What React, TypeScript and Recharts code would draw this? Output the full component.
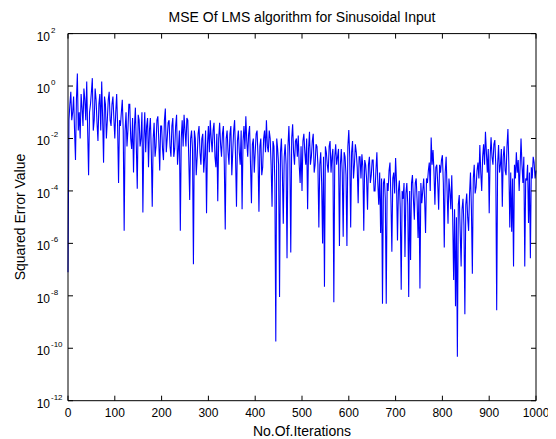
import React from "react";
import { LineChart, Line, XAxis, YAxis } from "recharts";

const ITER_STEP = 2;
const TITLE = "MSE Of LMS algorithm for Sinusoidal Input";
const X_LABEL = "No.Of.Iterations";
const Y_LABEL = "Squared Error Value";
const xTicks = [0, 100, 200, 300, 400, 500, 600, 700, 800, 900, 1000];
const yTickExponents = [2, 0, -2, -4, -6, -8, -10, -12];

// squared error, one value every 2 iterations (0..1000), 40 iterations per row
const mseValues = [
  8e-8, 5e-2, 2e-1, 6e-1, 5e-2, 1e-1, 4e-1, 2e-2, 1.5e-3, 3e-1, 3, 2e-2, 1e-1, 1e-2, 5e-1, 1.5e-1, 3e-2, 8e-1, 3e-1, 5e-2,
  1.5, 2e-2, 4e-4, 1e-1, 2e-1, 6e-1, 2, 2e-2, 5e-2, 8e-1, 3e-1, 4e-2, 8e-3, 2e-1, 5e-1, 2e-2, 1.5, 6e-2, 1.2e-3, 4e-1,
  2e-1, 1e-2, 5e-2, 3e-1, 6e-1, 5e-2, 3e-2, 2e-1, 4e-1, 6e-2, 1e-2, 1e-1, 5e-1, 3e-2, 2e-4, 5e-2, 3e-2, 1e-1, 3e-1, 2e-2,
  3e-6, 2e-2, 1e-1, 5e-3, 2e-2, 2e-1, 2e-1, 1e-2, 4e-3, 6e-2, 5e-4, 3e-2, 1.5e-1, 5e-3, 1.2e-4, 8e-2, 5e-2, 5e-3, 1e-2, 1e-1,
  1.5e-5, 1e-2, 1e-1, 3e-3, 3e-2, 6e-2, 8e-4, 2e-2, 6e-2, 3e-3, 2.5e-5, 1e-2, 4e-2, 2e-3, 5e-3, 5e-2, 7e-2, 8e-3, 6e-4, 3e-2,
  3e-2, 4e-3, 1.5e-3, 5e-2, 1.4e-1, 3e-3, 1e-2, 4e-2, 5e-2, 5e-3, 2e-3, 3e-2, 6e-2, 2e-3, 4e-3, 3e-2, 8e-2, 1e-3, 4e-3, 2e-2,
  3e-6, 1e-2, 5e-2, 5e-3, 8e-2, 2e-2, 5e-3, 6e-2, 5e-2, 2e-3, 4.5e-5, 1e-2, 2e-2, 4e-3, 1.6e-7, 2e-2, 1e-2, 4e-4, 2e-3, 1.5e-2,
  3e-2, 3e-3, 1e-3, 1e-2, 1.5e-2, 5e-4, 2e-3, 2e-2, 1.4e-5, 6e-3, 3e-2, 3e-3, 5e-2, 1e-2, 3e-3, 2e-2, 4e-2, 2e-3, 8e-4, 1.5e-2,
  4e-5, 1e-2, 4e-2, 6e-3, 2e-3, 1.5e-2, 3e-2, 1e-3, 3.4e-6, 1e-2, 2e-2, 3e-3, 1e-3, 1.5e-2, 3e-2, 4e-4, 3e-3, 2e-2, 5e-2, 2e-3,
  2.5e-5, 8e-3, 2e-2, 3e-3, 1e-3, 2e-2, 2e-5, 8e-3, 3e-2, 4e-3, 7e-2, 8e-3, 2e-3, 1.5e-2, 3e-2, 1e-3, 3.4e-5, 6e-3, 1e-2, 5e-4,
  3e-3, 1.5e-2, 2e-2, 2e-3, 1.6e-5, 5e-3, 1e-2, 4e-4, 8e-4, 1e-2, 2e-2, 3e-3, 5e-2, 5e-3, 3e-3, 2e-2, 1e-2, 1e-3, 2.5e-5, 8e-3,
  5e-3, 2e-4, 1.8e-10, 1e-2, 4e-3, 1e-3, 9e-9, 3e-3, 1e-2, 5e-4, 5.6e-6, 2e-3, 6e-3, 1e-3, 2.7e-7, 5e-3, 3e-2, 2e-3, 4.5e-7, 1e-2,
  3.5e-2, 3e-3, 1e-3, 8e-3, 1e-2, 2e-3, 1.3e-2, 1e-3, 2e-4, 5e-3, 1e-4, 8e-3, 1.5e-2, 3e-3, 1e-3, 1e-2, 2e-5, 4e-3, 1.8e-2, 1e-3,
  2e-3, 8e-3, 1.5e-2, 5e-4, 1e-3, 6e-3, 5e-3, 1e-3, 4e-6, 1e-3, 3e-3, 2e-4, 1e-6, 2e-3, 2.2e-8, 5e-3, 3e-3, 1e-3, 5e-4, 5e-3,
  8e-3, 5e-4, 2e-3, 4e-3, 5.7e-9, 2e-3, 6e-3, 1e-3, 2e-3, 4e-3, 8e-7, 1e-3, 4e-3, 5e-4, 1.8e-6, 3e-3, 2e-3, 4e-4, 8e-7, 5e-3,
  2.1e-2, 2e-3, 4e-6, 3e-3, 8e-3, 3e-4, 1e-3, 6e-3, 3e-3, 8e-4, 3.4e-5, 2e-3, 2e-3, 3e-4, 2.5e-3, 8e-4, 3e-6, 1.5e-3, 1e-3, 3e-4,
  1.9e-5, 1e-3, 2e-3, 2e-4, 4e-4, 1.5e-3, 1.5e-3, 1e-4, 1e-4, 6e-4, 3e-3, 2e-4, 3e-5, 5e-4, 2.5e-6, 3e-4, 5e-9, 2e-4, 3e-4, 5e-5,
  5e-9, 2e-4, 1e-4, 6e-4, 1.2e-3, 5e-5, 4.8e-7, 3e-4, 5e-4, 8e-5, 1.8e-3, 2e-4, 1.3e-6, 1e-4, 2.5e-4, 2e-5, 1.7e-8, 1e-4, 5e-5, 2e-4,
  3e-7, 8e-5, 2e-4, 3e-5, 9e-9, 1e-4, 2.3e-7, 2e-4, 4e-4, 5e-5, 8e-6, 2e-4, 3e-4, 4e-5, 1.6e-6, 1e-4, 1.9e-8, 2e-4, 3.4e-5, 1e-4,
  3e-4, 5e-5, 2.5e-6, 3e-4, 2e-4, 6e-4, 1.2e-3, 1e-4, 1.1e-2, 1e-3, 3.6e-3, 5e-4, 3e-5, 8e-4, 1e-3, 2e-4, 1.9e-5, 1e-3, 5e-4, 1.5e-3,
  2.3e-3, 2e-4, 7e-7, 5e-4, 2e-3, 1e-4, 5.6e-6, 3e-4, 1e-4, 2e-5, 4e-4, 1e-5, 4e-8, 2e-5, 4e-9, 1e-5, 4.7e-11, 3e-5, 7e-5, 3e-6,
  1.3e-7, 2e-5, 5e-5, 5e-6, 2e-9, 3e-5, 8e-5, 1e-5, 3e-6, 8e-5, 5e-4, 2e-5, 7e-8, 3e-4, 1e-3, 8e-5, 1.4e-4, 6e-4, 1.2e-3, 3e-4,
  5.6e-3, 5e-4, 1e-4, 2e-3, 6e-3, 1e-3, 1.8e-2, 3e-3, 5e-4, 4e-3, 1.4e-5, 2e-3, 1.1e-2, 2e-3, 1e-3, 6e-3, 8.7e-3, 1e-3, 2.8e-9, 1e-3,
  5.6e-3, 5e-4, 1e-3, 4e-3, 2.5e-5, 2e-3, 5e-3, 6e-4, 4e-4, 5e-3, 2.3e-2, 1e-3, 4e-6, 5e-4, 2.8e-6, 3e-4, 1.3e-7, 1e-3, 3e-4, 3e-3,
  5e-4, 1.5e-3, 1e-4, 8e-4, 1e-2, 1e-3, 2e-4, 2e-3, 1.3e-7, 3e-4, 2.5e-4, 1e-3, 6e-6, 5e-4, 2.7e-7, 8e-4, 3e-4, 2e-3, 1.2e-3, 3e-4,
  6e-4,
];

const iterations = mseValues.map((_, i) => i * ITER_STEP);
const data = iterations.map((it, i) => ({ it, mse: mseValues[i] }));
const yTicks = yTickExponents.map((e) => Math.pow(10, e));

const FONT = "Arial, 'Liberation Sans', sans-serif";
const TL = 5;

const BottomTick = (p: any) => (
  <g>
    <line x1={p.x} x2={p.x} y1={p.y} y2={p.y - TL} stroke="#000" strokeWidth={1} />
    <text x={p.x} y={p.y + 16} textAnchor="middle" fontSize={12} fontFamily={FONT} fill="#000">
      {p.payload.value}
    </text>
  </g>
);

const TopTick = (p: any) => (
  <line x1={p.x} x2={p.x} y1={p.y} y2={p.y + TL} stroke="#000" strokeWidth={1} />
);

const expOf = (v: number) => yTickExponents[yTicks.indexOf(v)] ?? Math.round(Math.log10(v));

const LeftTick = (p: any) => {
  const e = expOf(p.payload.value);
  return (
    <g>
      <line x1={p.x} x2={p.x + TL} y1={p.y} y2={p.y} stroke="#000" strokeWidth={1} />
      <text x={p.x - 18} y={p.y + 7} textAnchor="end" fontSize={12} fontFamily={FONT} fill="#000">
        10
      </text>
      <text x={p.x - 17} y={p.y - 1} textAnchor="start" fontSize={8} fontFamily={FONT} fill="#000">
        {e}
      </text>
    </g>
  );
};

const RightTick = (p: any) => (
  <line x1={p.x} x2={p.x - TL} y1={p.y} y2={p.y} stroke="#000" strokeWidth={1} />
);

export default function App() {
  return (
    <div style={{ position: "relative", width: 548, height: 431 }}>
      <LineChart
        width={548}
        height={431}
        data={data}
        margin={{ top: 20.6, right: 15, bottom: 8.3, left: 0 }}
      >
        <XAxis
          dataKey="it"
          type="number"
          domain={[0, 1000]}
          ticks={xTicks}
          height={30}
          tickSize={0}
          tickMargin={0}
          tickLine={false}
          axisLine={{ stroke: "#000", strokeWidth: 1 }}
          tick={BottomTick}
          interval={0}
        />
        <XAxis
          xAxisId="top"
          orientation="top"
          dataKey="it"
          type="number"
          domain={[0, 1000]}
          ticks={xTicks}
          height={5}
          tickSize={0}
          tickMargin={0}
          tickLine={false}
          axisLine={{ stroke: "#000", strokeWidth: 1 }}
          tick={TopTick}
          interval={0}
        />
        <YAxis
          type="number"
          scale="log"
          domain={[1e-12, 1e2]}
          ticks={yTicks}
          allowDataOverflow
          width={60}
          tickSize={0}
          tickMargin={0}
          tickLine={false}
          axisLine={{ stroke: "#000", strokeWidth: 1 }}
          tick={LeftTick}
          interval={0}
        />
        <YAxis
          yAxisId="right"
          orientation="right"
          type="number"
          scale="log"
          domain={[1e-12, 1e2]}
          ticks={yTicks}
          allowDataOverflow
          width={5}
          tickSize={0}
          tickMargin={0}
          tickLine={false}
          axisLine={{ stroke: "#000", strokeWidth: 1 }}
          tick={RightTick}
          interval={0}
        />
        <Line
          dataKey="mse"
          stroke="#0000ff"
          strokeWidth={1.1}
          dot={false}
          isAnimationActive={false}
        />
      </LineChart>
      <div
        style={{
          position: "absolute",
          left: 0,
          width: 588,
          top: 1,
          textAlign: "center",
          fontFamily: FONT,
          fontSize: 14,
          lineHeight: "16px",
          color: "#000",
          whiteSpace: "nowrap",
        }}
      >
        {TITLE}
      </div>
      <div
        style={{
          position: "absolute",
          left: 0,
          width: 588,
          top: 415,
          textAlign: "center",
          fontFamily: FONT,
          fontSize: 14,
          lineHeight: "16px",
          color: "#000",
          whiteSpace: "nowrap",
        }}
      >
        {X_LABEL}
      </div>
      <div
        style={{
          position: "absolute",
          left: 12 - 100,
          top: 209 - 8,
          width: 200,
          textAlign: "center",
          fontFamily: FONT,
          fontSize: 14,
          lineHeight: "16px",
          color: "#000",
          whiteSpace: "nowrap",
          transform: "rotate(-90deg)",
        }}
      >
        {Y_LABEL}
      </div>
    </div>
  );
}
